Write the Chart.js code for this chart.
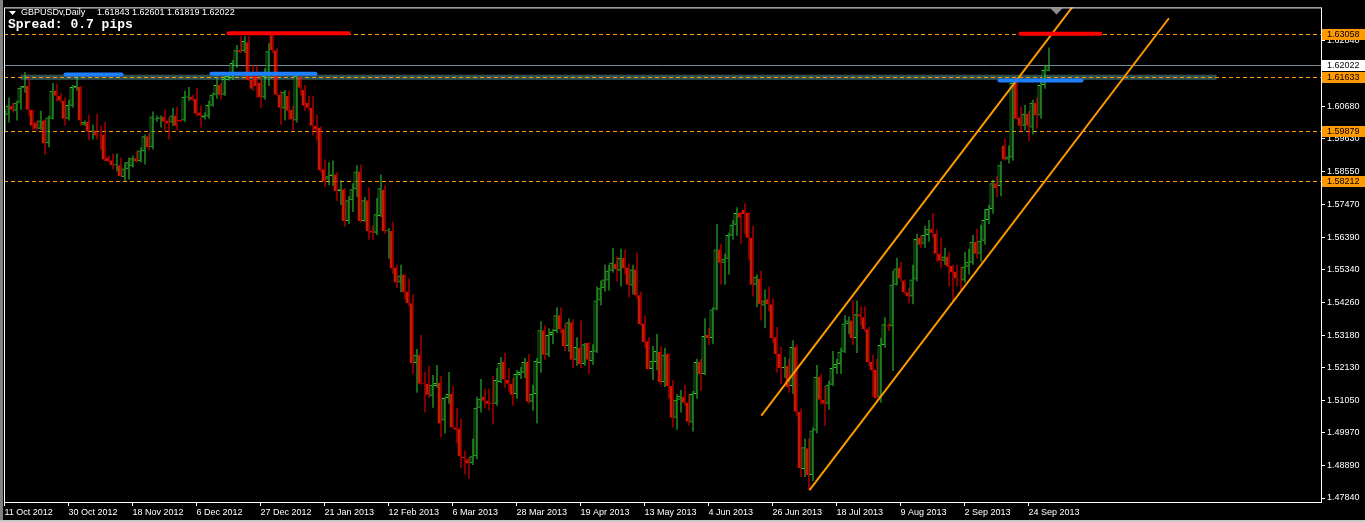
<!DOCTYPE html>
<html lang="en">
<head>
<meta charset="UTF-8">
<title>GBPUSDv, Daily</title>
<script src="https://cdn.jsdelivr.net/npm/chart.js"></script>
<style>
  html, body { margin: 0; padding: 0; background: #000; }
  #wrap { width: 1365px; height: 522px; }
</style>
</head>
<body>
<div id="wrap"><canvas id="priceChart" width="1365" height="522"></canvas></div>
<script>
// ---- chart data ----
const symbolTitle = 'GBPUSDv,Daily';
const lastQuote = '1.61843 1.62601 1.61819 1.62022';
const spreadText = 'Spread: 0.7 pips';

// bar index of each date label on the time axis
const dateTickIdx = [0, 16, 32, 48, 64, 80, 96, 112, 128, 144, 160, 176, 192, 208, 224, 240, 256];
const dateLabels = ['11 Oct 2012', '30 Oct 2012', '18 Nov 2012', '6 Dec 2012', '27 Dec 2012', '21 Jan 2013',
  '12 Feb 2013', '6 Mar 2013', '28 Mar 2013', '19 Apr 2013', '13 May 2013', '4 Jun 2013', '26 Jun 2013',
  '18 Jul 2013', '9 Aug 2013', '2 Sep 2013', '24 Sep 2013'];

const priceTicks = [1.47840, 1.48890, 1.49970, 1.51050, 1.52130, 1.53180, 1.54260, 1.55340,
  1.56390, 1.57470, 1.58550, 1.59630, 1.60680, 1.62840];

const open = [
  1.5998,1.6040,1.6069,1.6053,1.6079,1.6128,1.6134,1.6056,1.6014,1.5994,
  1.6021,1.5946,1.6027,1.6118,1.6102,1.6086,1.6027,1.6069,1.6128,1.6131,
  1.6007,1.6017,1.5985,1.5988,1.5975,1.5975,1.5900,1.5890,1.5874,1.5874,
  1.5835,1.5861,1.5871,1.5897,1.5887,1.5920,1.5969,1.5933,1.6024,1.6027,
  1.6034,1.6021,1.6014,1.6037,1.6021,1.6021,1.6096,1.6099,1.6092,1.6047,
  1.6031,1.6034,1.6069,1.6105,1.6137,1.6105,1.6154,1.6161,1.6199,1.6251,
  1.6248,1.6277,1.6154,1.6167,1.6144,1.6096,1.6170,1.6300,1.6251,1.6105,
  1.6060,1.6102,1.6056,1.6021,1.6164,1.6121,1.6079,1.6063,1.6004,1.5998,
  1.5861,1.5828,1.5838,1.5844,1.5789,1.5796,1.5692,1.5760,1.5796,1.5854,
  1.5692,1.5760,1.5659,1.5653,1.5708,1.5793,1.5658,1.5659,1.5539,1.5490,
  1.5516,1.5461,1.5422,1.5226,1.5253,1.5161,1.5158,1.5119,1.5151,1.5161,
  1.5038,1.5112,1.5125,1.5015,1.5012,1.4918,1.4911,1.4898,1.4921,1.5080,
  1.5116,1.5103,1.5096,1.5093,1.5164,1.5230,1.5171,1.5158,1.5125,1.5187,
  1.5194,1.5230,1.5099,1.5125,1.5226,1.5334,1.5253,1.5318,1.5331,1.5383,
  1.5337,1.5282,1.5360,1.5237,1.5276,1.5223,1.5292,1.5233,1.5263,1.5431,
  1.5471,1.5497,1.5529,1.5552,1.5529,1.5571,1.5539,1.5480,1.5533,1.5448,
  1.5356,1.5298,1.5207,1.5230,1.5263,1.5164,1.5256,1.5151,1.5047,1.5106,
  1.5116,1.5096,1.5031,1.5125,1.5230,1.5190,1.5318,1.5308,1.5402,1.5598,
  1.5555,1.5568,1.5643,1.5679,1.5718,1.5728,1.5718,1.5637,1.5483,1.5503,
  1.5415,1.5435,1.5419,1.5311,1.5256,1.5210,1.5217,1.5151,1.5279,1.5067,
  1.4879,1.4947,1.4859,1.5005,1.5181,1.5106,1.5093,1.5155,1.5210,1.5223,
  1.5263,1.5353,1.5366,1.5308,1.5386,1.5376,1.5337,1.5230,1.5203,1.5116,
  1.5285,1.5350,1.5347,1.5483,1.5539,1.5497,1.5458,1.5444,1.5500,1.5637,
  1.5617,1.5646,1.5666,1.5650,1.5584,1.5561,1.5575,1.5545,1.5526,1.5500,
  1.5497,1.5542,1.5555,1.5624,1.5584,1.5627,1.5695,1.5731,1.5815,1.5806,
  1.5939,1.5893,1.5900,1.6144,1.6031,1.6004,1.6043,1.5998,1.6079,1.6037,
  1.6137,1.61843
];
const high = [
  1.6053,1.6096,1.6079,1.6086,1.6134,1.6180,1.6167,1.6056,1.6021,1.6053,
  1.6024,1.6037,1.6144,1.6141,1.6112,1.6096,1.6089,1.6137,1.6167,1.6134,
  1.6021,1.6040,1.6007,1.6043,1.6004,1.6017,1.5906,1.5913,1.5913,1.5900,
  1.5884,1.5900,1.5906,1.5923,1.5933,1.5975,1.5979,1.6050,1.6037,1.6037,
  1.6056,1.6031,1.6063,1.6066,1.6024,1.6118,1.6131,1.6105,1.6128,1.6069,
  1.6047,1.6086,1.6112,1.6164,1.6144,1.6167,1.6174,1.6219,1.6268,1.6297,
  1.6297,1.6297,1.6203,1.6203,1.6167,1.6193,1.6274,1.6305,1.6258,1.6118,
  1.6121,1.6118,1.6069,1.6170,1.6164,1.6137,1.6102,1.6102,1.6040,1.6001,
  1.5893,1.5884,1.5890,1.5851,1.5825,1.5799,1.5773,1.5815,1.5874,1.5877,
  1.5770,1.5802,1.5676,1.5767,1.5844,1.5809,1.5669,1.5689,1.5548,1.5548,
  1.5516,1.5503,1.5451,1.5272,1.5318,1.5197,1.5217,1.5187,1.5220,1.5184,
  1.5116,1.5197,1.5151,1.5080,1.5044,1.4940,1.4918,1.4979,1.5116,1.5174,
  1.5142,1.5142,1.5184,1.5210,1.5246,1.5259,1.5210,1.5177,1.5203,1.5213,
  1.5243,1.5256,1.5155,1.5243,1.5363,1.5350,1.5340,1.5337,1.5409,1.5409,
  1.5356,1.5373,1.5370,1.5311,1.5366,1.5292,1.5295,1.5288,1.5477,1.5497,
  1.5548,1.5548,1.5604,1.5575,1.5601,1.5598,1.5552,1.5548,1.5588,1.5461,
  1.5383,1.5311,1.5282,1.5321,1.5282,1.5276,1.5258,1.5171,1.5125,1.5138,
  1.5155,1.5125,1.5135,1.5240,1.5240,1.5373,1.5340,1.5409,1.5682,1.5617,
  1.5584,1.5653,1.5695,1.5737,1.5721,1.5750,1.5721,1.5676,1.5516,1.5529,
  1.5467,1.5477,1.5438,1.5344,1.5279,1.5246,1.5240,1.5301,1.5288,1.5077,
  1.4979,1.4979,1.5015,1.5220,1.5190,1.5151,1.5168,1.5266,1.5240,1.5276,
  1.5383,1.5379,1.5431,1.5431,1.5412,1.5412,1.5344,1.5253,1.5240,1.5308,
  1.5376,1.5356,1.5529,1.5571,1.5558,1.5500,1.5471,1.5548,1.5650,1.5646,
  1.5676,1.5695,1.5718,1.5663,1.5637,1.5604,1.5591,1.5548,1.5548,1.5542,
  1.5591,1.5601,1.5646,1.5666,1.5679,1.5731,1.5744,1.5828,1.5838,1.5887,
  1.5962,1.5939,1.6154,1.6157,1.6066,1.6072,1.6053,1.6089,1.6096,1.6147,
  1.6199,1.62601
];
const low = [
  1.5982,1.6014,1.6047,1.6021,1.6056,1.6112,1.6037,1.5991,1.5988,1.5991,
  1.5909,1.5933,1.6024,1.6083,1.6079,1.6004,1.6021,1.6063,1.6118,1.6004,
  1.6004,1.5956,1.5959,1.5959,1.5926,1.5887,1.5884,1.5861,1.5854,1.5835,
  1.5822,1.5828,1.5867,1.5884,1.5884,1.5877,1.5923,1.5926,1.6017,1.5998,
  1.5988,1.5959,1.6004,1.5988,1.6016,1.6017,1.6086,1.6086,1.6034,1.5998,
  1.6024,1.6027,1.6066,1.6092,1.6089,1.6102,1.6151,1.6154,1.6193,1.6242,
  1.6242,1.6151,1.6118,1.6096,1.6063,1.6089,1.6134,1.6242,1.6102,1.6007,
  1.6021,1.6024,1.5988,1.6014,1.6102,1.6053,1.6053,1.5972,1.5956,1.5851,
  1.5803,1.5809,1.5806,1.5757,1.5744,1.5673,1.5682,1.5721,1.5770,1.5686,
  1.5689,1.5630,1.5630,1.5646,1.5705,1.5650,1.5568,1.5519,1.5471,1.5458,
  1.5435,1.5412,1.5190,1.5129,1.5155,1.5064,1.5112,1.5080,1.5145,1.4983,
  1.4995,1.5093,1.5012,1.4963,1.4882,1.4862,1.4846,1.4892,1.4911,1.5064,
  1.5080,1.5070,1.5025,1.5086,1.5161,1.5145,1.5132,1.5086,1.5109,1.5174,
  1.5177,1.5093,1.5070,1.5028,1.5194,1.5237,1.5246,1.5288,1.5324,1.5324,
  1.5266,1.5263,1.5210,1.5217,1.5210,1.5217,1.5190,1.5220,1.5259,1.5415,
  1.5461,1.5464,1.5523,1.5493,1.5477,1.5516,1.5441,1.5451,1.5438,1.5350,
  1.5276,1.5205,1.5171,1.5203,1.5155,1.5148,1.5109,1.5015,1.5008,1.5064,
  1.5086,1.5021,1.5002,1.5109,1.5135,1.5187,1.5285,1.5288,1.5399,1.5483,
  1.5483,1.5516,1.5630,1.5643,1.5617,1.5650,1.5565,1.5444,1.5409,1.5366,
  1.5340,1.5396,1.5292,1.5194,1.5158,1.5177,1.5129,1.5125,1.5051,1.4853,
  1.4853,1.4810,1.4840,1.4995,1.5090,1.5021,1.5073,1.5151,1.5190,1.5190,
  1.5259,1.5321,1.5285,1.5259,1.5350,1.5328,1.5217,1.5116,1.5109,1.5096,
  1.5276,1.5331,1.5200,1.5480,1.5493,1.5451,1.5422,1.5419,1.5493,1.5604,
  1.5604,1.5624,1.5637,1.5558,1.5536,1.5548,1.5477,1.5428,1.5477,1.5464,
  1.5490,1.5516,1.5548,1.5568,1.5558,1.5614,1.5682,1.5715,1.5770,1.5773,
  1.5890,1.5880,1.5890,1.6024,1.5985,1.5988,1.5953,1.5975,1.5994,1.6027,
  1.6125,1.61819
];
const close = [
  1.6040,1.6069,1.6056,1.6079,1.6128,1.6134,1.6056,1.6004,1.5994,1.6021,
  1.5946,1.6031,1.6118,1.6102,1.6086,1.6027,1.6072,1.6131,1.6134,1.6021,
  1.6017,1.5985,1.5988,1.5972,1.5972,1.5893,1.5887,1.5874,1.5877,1.5838,
  1.5864,1.5884,1.5897,1.5887,1.5923,1.5969,1.5933,1.6034,1.6027,1.6031,
  1.6017,1.6011,1.6037,1.6004,1.6019,1.6099,1.6099,1.6089,1.6043,1.6037,
  1.6037,1.6072,1.6105,1.6137,1.6105,1.6157,1.6167,1.6209,1.6251,1.6245,
  1.6281,1.6154,1.6125,1.6134,1.6096,1.6167,1.6248,1.6251,1.6105,1.6063,
  1.6115,1.6053,1.6024,1.6167,1.6128,1.6069,1.6063,1.6004,1.5991,1.5858,
  1.5822,1.5838,1.5844,1.5789,1.5796,1.5692,1.5760,1.5796,1.5854,1.5692,
  1.5760,1.5659,1.5653,1.5714,1.5799,1.5659,1.5661,1.5536,1.5490,1.5513,
  1.5458,1.5422,1.5226,1.5253,1.5158,1.5158,1.5122,1.5155,1.5161,1.5028,
  1.5112,1.5125,1.5015,1.5008,1.4921,1.4914,1.4898,1.4921,1.5080,1.5109,
  1.5103,1.5093,1.5093,1.5171,1.5226,1.5174,1.5158,1.5122,1.5190,1.5197,
  1.5230,1.5099,1.5125,1.5233,1.5334,1.5253,1.5318,1.5328,1.5383,1.5337,
  1.5282,1.5360,1.5237,1.5279,1.5223,1.5288,1.5237,1.5266,1.5431,1.5471,
  1.5500,1.5529,1.5555,1.5533,1.5571,1.5536,1.5483,1.5533,1.5448,1.5353,
  1.5295,1.5207,1.5233,1.5266,1.5164,1.5253,1.5151,1.5047,1.5106,1.5119,
  1.5096,1.5034,1.5125,1.5230,1.5190,1.5315,1.5308,1.5402,1.5598,1.5555,
  1.5568,1.5646,1.5679,1.5718,1.5702,1.5714,1.5637,1.5483,1.5509,1.5419,
  1.5431,1.5419,1.5308,1.5256,1.5210,1.5213,1.5148,1.5279,1.5067,1.4882,
  1.4950,1.4859,1.5005,1.5181,1.5106,1.5093,1.5155,1.5210,1.5223,1.5263,
  1.5356,1.5366,1.5308,1.5386,1.5379,1.5337,1.5230,1.5203,1.5112,1.5285,
  1.5353,1.5347,1.5483,1.5536,1.5503,1.5458,1.5444,1.5500,1.5633,1.5614,
  1.5646,1.5666,1.5653,1.5584,1.5561,1.5575,1.5542,1.5523,1.5503,1.5497,
  1.5542,1.5558,1.5624,1.5584,1.5627,1.5695,1.5731,1.5815,1.5799,1.5874,
  1.5893,1.5903,1.6144,1.6027,1.6004,1.6043,1.6004,1.6079,1.6037,1.6137,
  1.6186,1.62022
];

// horizontal levels and drawn objects (bar index / price)
const levelLines = [1.63058, 1.61633, 1.59879, 1.58212];
const bidPrice = 1.62022;
const zoneBars = [4, 303];
const zonePrices = [1.6171, 1.6154];
const blueSegments = [[15.25, 29.25, 1.6172], [51.75, 77.75, 1.6174], [248.75, 269.25, 1.6152]];
const redSegments = [[56, 86, 1.6307], [254, 274, 1.6305]];
const channelLines = [[189.2, 1.5054, 270, 1.6445], [201.25, 1.4810, 291.1, 1.6356]];

const UP = '#32CD32', DOWN = '#FF0000', DOWN_FILL = '#FF3C00', ORANGE = '#FF9900';
const FONT = 'Liberation Sans';

const isUp = i => close[i] >= open[i];

const mtPlugin = {
  id: 'mtPlugin',
  beforeDraw(chart) {
    const c = chart.ctx;
    c.save();
    c.fillStyle = '#000';
    c.fillRect(0, 0, chart.width, chart.height);
    c.fillStyle = '#808080';
    c.fillRect(0, 0, 3, chart.height);
    c.fillStyle = '#c8c8c8';
    c.fillRect(0, chart.height - 2, chart.width, 2);
    c.restore();
  },
  beforeDatasetsDraw(chart) {
    const { ctx: c, chartArea: a, scales: { x, y } } = chart;
    c.save();
    c.beginPath();
    c.rect(a.left, a.top, a.right - a.left, a.bottom - a.top);
    c.clip();
    // rectangle zone
    const zx0 = x.getPixelForValue(zoneBars[0]), zx1 = x.getPixelForValue(zoneBars[1]);
    const zy0 = y.getPixelForValue(zonePrices[0]), zy1 = y.getPixelForValue(zonePrices[1]);
    c.fillStyle = '#2F4F4F';
    c.fillRect(zx0, zy0, zx1 - zx0, zy1 - zy0);
    // bid line
    c.strokeStyle = '#778899';
    c.lineWidth = 1;
    let py = Math.round(y.getPixelForValue(bidPrice)) + 0.5;
    c.beginPath(); c.moveTo(a.left, py); c.lineTo(a.right, py); c.stroke();
    // dashed levels
    c.strokeStyle = ORANGE;
    c.setLineDash([4, 3]);
    levelLines.forEach(p => {
      py = Math.round(y.getPixelForValue(p)) + 0.5;
      c.beginPath(); c.moveTo(a.left, py); c.lineTo(a.right, py); c.stroke();
    });
    c.restore();
  },
  afterDatasetsDraw(chart) {
    const { ctx: c, chartArea: a, scales: { x, y } } = chart;
    c.save();
    c.beginPath();
    c.rect(a.left, a.top, a.right - a.left, a.bottom - a.top);
    c.clip();
    c.strokeStyle = ORANGE;
    c.lineWidth = 2;
    channelLines.forEach(([b0, p0, b1, p1]) => {
      c.beginPath();
      c.moveTo(x.getPixelForValue(b0), y.getPixelForValue(p0));
      c.lineTo(x.getPixelForValue(b1), y.getPixelForValue(p1));
      c.stroke();
    });
    c.lineWidth = 4;
    c.lineCap = 'round';
    const seg = (list, col) => {
      c.strokeStyle = col;
      list.forEach(([b0, b1, p]) => {
        const py = y.getPixelForValue(p);
        c.beginPath();
        c.moveTo(x.getPixelForValue(b0), py);
        c.lineTo(x.getPixelForValue(b1), py);
        c.stroke();
      });
    };
    seg(blueSegments, '#1E7FFF');
    seg(redSegments, '#FF0000');
    // chart shift marker
    const sx = x.getPixelForValue(263);
    c.fillStyle = '#8c8c8c';
    c.beginPath();
    c.moveTo(sx - 6, a.top + 1); c.lineTo(sx + 6, a.top + 1); c.lineTo(sx, a.top + 7);
    c.closePath(); c.fill();
    c.restore();
  },
  afterDraw(chart) {
    const { ctx: c, chartArea: a, scales: { y } } = chart;
    c.save();
    c.strokeStyle = '#fff';
    c.lineWidth = 1;
    c.strokeRect(a.left + 0.5, a.top + 0.5, a.right - a.left, a.bottom - a.top);
    // price labels on the right scale
    c.font = '9px "' + FONT + '"';
    c.textBaseline = 'middle';
    const tag = (p, bg) => {
      const py = Math.round(y.getPixelForValue(p));
      c.fillStyle = bg;
      c.fillRect(a.right + 1, py - 5, chart.width - a.right - 1, 11);
      c.fillStyle = '#000';
      c.fillText(p.toFixed(5), a.right + 6, py + 0.5);
    };
    levelLines.forEach(p => tag(p, ORANGE));
    tag(bidPrice, '#fff');
    // header texts
    c.fillStyle = '#fff';
    c.beginPath();
    c.moveTo(9, 11); c.lineTo(16, 11); c.lineTo(12.5, 15); c.closePath(); c.fill();
    c.fillText(symbolTitle, 21, 13);
    c.fillText(lastQuote, 97, 13);
    c.font = 'bold 13px "Liberation Mono"';
    c.fillText(spreadText, 8, 25);
    c.restore();
  }
};

const idx = open.map((_, i) => i);

new Chart(document.getElementById('priceChart'), {
  type: 'bar',
  data: {
    datasets: [
      {
        label: 'body',
        order: 0,
        data: idx.map(i => ({ x: i, y: [open[i], close[i]] })),
        barThickness: 3,
        borderWidth: 1,
        borderSkipped: false,
        inflateAmount: 0,
        minBarLength: 1,
        grouping: false,
        borderColor: ctx => isUp(ctx.dataIndex) ? UP : DOWN,
        backgroundColor: ctx => isUp(ctx.dataIndex) ? '#000' : DOWN_FILL
      },
      {
        label: 'wick',
        order: 1,
        data: idx.map(i => ({ x: i, y: [low[i], high[i]] })),
        barThickness: 1,
        borderWidth: 0,
        inflateAmount: 0,
        grouping: false,
        backgroundColor: ctx => isUp(ctx.dataIndex) ? UP : DOWN
      }
    ]
  },
  options: {
    responsive: false,
    animation: false,
    devicePixelRatio: 1,
    layout: { padding: { left: 4, top: 4, right: 0, bottom: 0 } },
    plugins: { legend: { display: false }, tooltip: { enabled: false } },
    scales: {
      x: {
        type: 'linear',
        offset: false,
        min: -0.125,
        max: 329.125,
        afterBuildTicks: s => { s.ticks = dateTickIdx.map(v => ({ value: v })); },
        afterFit: s => { s.height = 20; },
        border: { display: false },
        grid: { drawOnChartArea: false, offset: false, color: '#fff', tickLength: 4 },
        ticks: {
          color: '#fff', font: { family: FONT, size: 9 }, padding: 1,
          align: 'start', maxRotation: 0, autoSkip: false,
          callback: (v, i) => dateLabels[i]
        }
      },
      y: {
        position: 'right',
        min: 1.47709,
        max: 1.63915,
        afterBuildTicks: s => { s.ticks = priceTicks.map(v => ({ value: v })); },
        afterFit: s => { s.width = 44; },
        border: { display: false },
        grid: { drawOnChartArea: false, color: '#fff', tickLength: 4 },
        ticks: {
          color: '#fff', font: { family: FONT, size: 9 }, padding: 2,
          crossAlign: 'near', autoSkip: false,
          callback: v => v.toFixed(5)
        }
      }
    }
  },
  plugins: [mtPlugin]
});
</script>
</body>
</html>
